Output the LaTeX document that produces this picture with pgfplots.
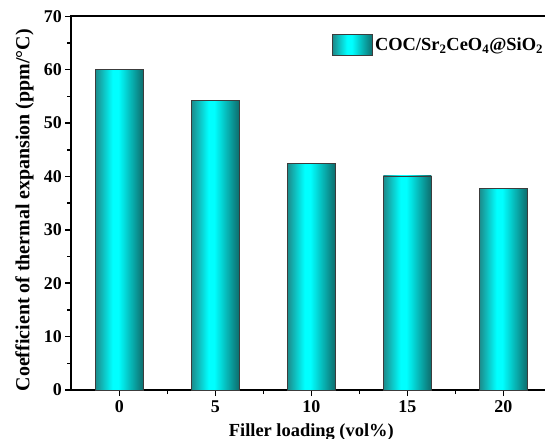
\documentclass[border=0pt]{standalone}
\usepackage{pgfplots}
\pgfplotsset{compat=1.18}
\usepackage{fontspec}
\setmainfont{Liberation Serif}

\definecolor{barDarkL}{RGB}{28,138,138}
\definecolor{barDarkR}{RGB}{14,108,108}
\definecolor{barLight}{RGB}{0,255,255}
\definecolor{barEdge}{RGB}{60,60,60}

% cylinder-like shading across each bar (the path spans 25bp..75bp)
\pgfdeclarehorizontalshading{cylbar}{100bp}{%
  color(0bp)=(barDarkL); color(25bp)=(barDarkL); color(43bp)=(barLight);
  color(49bp)=(barLight); color(75bp)=(barDarkR); color(100bp)=(barDarkR)}

\pgfplotstableread{
x   cte
0   60.0
5   54.2
10  42.5
15  40.1
20  37.7
}\ctedata

\begin{document}
\begin{tikzpicture}
\begin{axis}[
  scale only axis,
  width=480bp, height=373.7bp,
  xmin=-2.5, xmax=22.5,
  ymin=0, ymax=70,
  xtick={0,5,10,15,20},
  minor x tick num=1,
  ytick={0,10,...,70},
  minor y tick num=1,
  xtick pos=bottom, ytick pos=left,
  tick align=outside,
  major tick length=6bp, minor tick length=4bp,
  axis line style={line width=1.8bp},
  every tick/.style={line width=1.5bp, black},
  /pgf/number format/assume math mode=true,
  tick label style={font=\fontsize{18}{20}\selectfont\bfseries},
  xticklabel style={yshift=-1bp},
  xlabel={Filler loading (vol\%)},
  ylabel={Coefficient of thermal expansion (ppm/\textdegree C)},
  xlabel style={font=\fontsize{18.5}{21}\selectfont\bfseries, yshift=-4bp},
  ylabel style={font=\fontsize{20}{22}\selectfont\bfseries, yshift=3.5bp, xshift=-7bp},
  ybar, bar width=2.5, bar shift=0pt,
  every axis plot/.append style={draw=barEdge, line width=0.8bp, shading=cylbar, shade},
  legend style={draw=none, fill=none, at={(axis cs:11.08,64.6)}, anchor=west,
    inner sep=0pt, font=\fontsize{18.5}{21}\selectfont\bfseries},
  legend image code/.code={%
    \draw[barEdge, line width=0.8bp, shading=cylbar, shade]
      (0bp,-10.5bp) rectangle (40bp,10.5bp);},
]
% one plot per bar so that each bar receives its own shading
\addplot[restrict x to domain=-1:1] table[x=x, y=cte] {\ctedata};
\addlegendentry{COC/Sr\textsubscript{2}CeO\textsubscript{4}@SiO\textsubscript{2}}
\addplot[forget plot, restrict x to domain=4:6] table[x=x, y=cte] {\ctedata};
\addplot[forget plot, restrict x to domain=9:11] table[x=x, y=cte] {\ctedata};
\addplot[forget plot, restrict x to domain=14:16] table[x=x, y=cte] {\ctedata};
\addplot[forget plot, restrict x to domain=19:21] table[x=x, y=cte] {\ctedata};
\coordinate (bbsw) at ([xshift=-71.3bp, yshift=-49bp]rel axis cs:0,0);
\coordinate (bbne) at ([xshift=473.7bp, yshift=16.3bp]rel axis cs:0,1);
\end{axis}
\pgfresetboundingbox
\path (bbsw) rectangle (bbne);
\end{tikzpicture}
\end{document}
